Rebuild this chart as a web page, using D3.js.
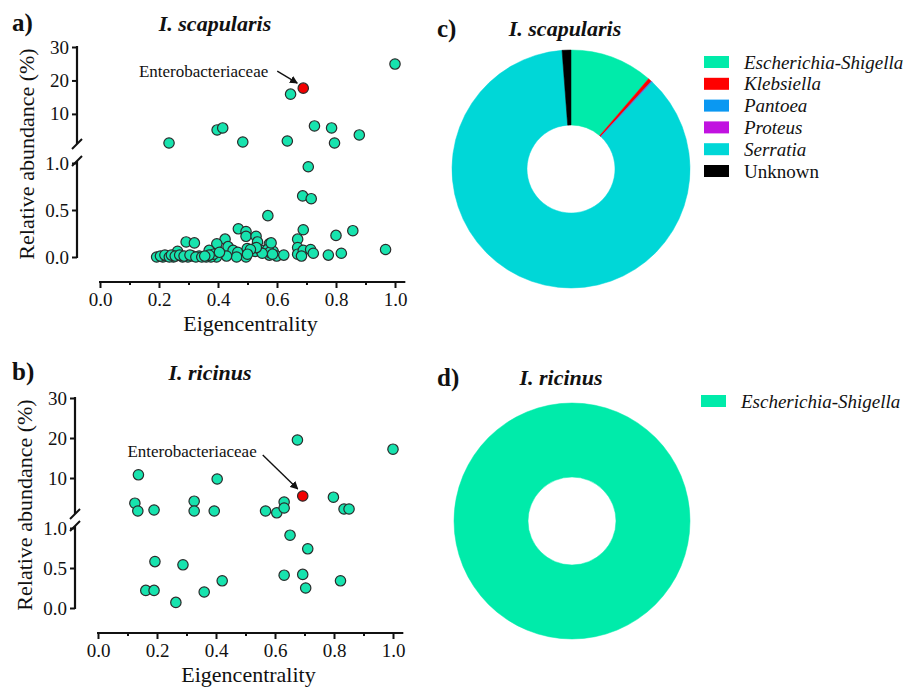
<!DOCTYPE html>
<html>
<head>
<meta charset="utf-8">
<script src="https://cdn.jsdelivr.net/npm/d3@7"></script>
<style>
  body { margin: 0; background: #fff; }
  text { font-family: "Liberation Serif", "Times New Roman", serif; fill: #111; }
</style>
</head>
<body>
<script>

/******** Data *********/

// I. scapularis: eigencentrality vs relative abundance (%)
var scapEigen = [0.234, 0.397, 0.416, 0.484, 0.635, 0.646, 0.727, 0.785, 0.795, 0.879, 1.0,
  0.706, 0.687, 0.716, 0.569,
  0.469, 0.495, 0.495, 0.529, 0.534, 0.574, 0.670, 0.689, 0.800, 0.857, 0.968,
  0.292, 0.320, 0.424, 0.396, 0.434, 0.451, 0.467, 0.499, 0.523, 0.526, 0.546, 0.568, 0.587,
  0.574, 0.599, 0.623, 0.670, 0.670, 0.689, 0.683, 0.714, 0.723, 0.774, 0.818,
  0.495, 0.463, 0.429, 0.395, 0.376, 0.376, 0.360, 0.336, 0.314, 0.298, 0.263, 0.280, 0.249,
  0.227, 0.213, 0.192, 0.205, 0.220, 0.235, 0.242, 0.255, 0.270, 0.285, 0.305, 0.325, 0.345,
  0.370, 0.385, 0.405, 0.575, 0.585, 0.550, 0.530, 0.510, 0.580, 0.370, 0.355, 0.500]
var scapAbund = [1.3, 5.2, 5.8, 1.6, 1.9, 15.9, 6.4, 5.8, 1.3, 3.7, 24.9,
  0.96, 0.65, 0.62, 0.44,
  0.30, 0.27, 0.22, 0.22, 0.16, 0.14, 0.19, 0.29, 0.23, 0.28, 0.08,
  0.16, 0.15, 0.19, 0.14, 0.11, 0.07, 0.05, 0.09, 0.09, 0.06, 0.07, 0.08, 0.06,
  0.02, 0.01, 0.02, 0.10, 0.03, 0.07, 0.01, 0.08, 0.04, 0.02, 0.04,
  0.00, 0.00, 0.01, 0.00, 0.04, 0.00, 0.00, 0.01, 0.01, 0.00, 0.06, 0.00, 0.00,
  0.01, 0.00, 0.00, 0.01, 0.02, 0.00, 0.02, 0.01, 0.02, 0.01, 0.02, 0.00, 0.00,
  0.07, 0.03, 0.05, 0.05, 0.03, 0.04, 0.10, 0.08, 0.15, 0.02, 0.01, 0.03]
var scapEntero = [0.689, 17.7]

// I. ricinus
var ricEigen = [0.137, 0.404, 0.676, 1.0, 0.798, 0.125, 0.326, 0.631, 0.135, 0.190, 0.326,
  0.394, 0.568, 0.606, 0.631, 0.834, 0.851,
  0.651, 0.711, 0.193, 0.288, 0.421, 0.631, 0.694, 0.822, 0.704, 0.162, 0.190, 0.360, 0.264]
var ricAbund = [10.8, 9.75, 19.5, 17.2, 5.2, 3.7, 4.2, 4.0, 1.75, 2.0, 1.75,
  1.75, 1.75, 1.3, 2.5, 2.25, 2.25,
  0.91, 0.74, 0.58, 0.54, 0.34, 0.41, 0.42, 0.34, 0.25, 0.22, 0.22, 0.20, 0.07]
var ricEntero = [0.694, 5.5]

// Genus composition of Enterobacteriaceae (%)
var scapGenera = ["Escherichia-Shigella", "Klebsiella", "Pantoea", "Proteus", "Serratia", "Unknown"]
var scapShares = [11.3, 0.5, 0.1, 0.05, 86.85, 1.2]
var ricGenera = ["Escherichia-Shigella"]
var ricShares = [100]

var xTicks = [0, 0.2, 0.4, 0.6, 0.8, 1.0]
var xMinor = [0.1, 0.3, 0.5, 0.7, 0.9]
var yUpperTicks = [10, 20, 30]
var yLowerTicks = [0, 0.5, 1.0]

var genusColor = {
  "Escherichia-Shigella": "#00ebaa",
  "Klebsiella": "#ff0000",
  "Pantoea": "#0a98f2",
  "Proteus": "#c112e0",
  "Serratia": "#00d7d7",
  "Unknown": "#000000"
}
var italicGenus = function(g){ return g !== "Unknown" }

var svg = d3.select("body")
  .append("svg")
    .attr("width", 916)
    .attr("height", 687)

/******** Scatter panels *********/

function scatterPanel(p){
  var g = svg.append("g")

  var x = d3.scaleLinear().domain([0, 1]).range(p.xRange)
  var yUp = d3.scaleLinear().domain([1, 30]).range(p.upRange)
  var yLow = d3.scaleLinear().domain([0, 1]).range(p.lowRange)
  var y = function(v){ return v > 1 ? yUp(v) : yLow(v) }

  // x axis
  var xa = g.append("g")
    .attr("transform", "translate(0," + p.xAxisY + ")")
    .call(d3.axisBottom(x).tickValues(xTicks).tickSize(6).tickFormat(d3.format(".1f")))
  xa.select(".domain").remove()
  var xm = g.append("g")
    .attr("transform", "translate(0," + p.xAxisY + ")")
    .call(d3.axisBottom(x).tickValues(xMinor).tickSize(3).tickFormat(""))
  xm.select(".domain").remove()
  xm.selectAll(".tick text").remove()
  g.append("line")
    .attr("x1", x(0) - 1).attr("x2", x(1.035))
    .attr("y1", p.xAxisY).attr("y2", p.xAxisY)
    .attr("stroke", "#111").attr("stroke-width", 2.2)

  // y axis, two segments
  var ua = g.append("g")
    .attr("transform", "translate(" + p.yAxisX + ",0)")
    .call(d3.axisLeft(yUp).tickValues(yUpperTicks).tickSize(5).tickFormat(d3.format("d")))
  ua.select(".domain").remove()
  var la = g.append("g")
    .attr("transform", "translate(" + p.yAxisX + ",0)")
    .call(d3.axisLeft(yLow).tickValues(yLowerTicks).tickSize(5).tickFormat(d3.format(".1f")))
  la.select(".domain").remove()

  g.append("line")
    .attr("x1", p.yAxisX).attr("x2", p.yAxisX)
    .attr("y1", yUp(30) - 1).attr("y2", yUp(1))
    .attr("stroke", "#111").attr("stroke-width", 2.2)
  g.append("line")
    .attr("x1", p.yAxisX).attr("x2", p.yAxisX)
    .attr("y1", yLow(1) - 2).attr("y2", yLow(0) + 1)
    .attr("stroke", "#111").attr("stroke-width", 2.2)

  // break marks
  ;[yUp(1), yLow(1) - 2].forEach(function(by){
    g.append("line")
      .attr("x1", p.yAxisX - 5).attr("y1", by + 5)
      .attr("x2", p.yAxisX + 5).attr("y2", by - 5)
      .attr("stroke", "#111").attr("stroke-width", 2)
  })

  g.selectAll(".tick line").attr("stroke", "#111").attr("stroke-width", 2)
  g.selectAll(".tick text")
    .attr("font-size", "19px")
    .attr("font-family", "Liberation Serif, serif")
    .attr("fill", "#222")
  xa.selectAll(".tick text").attr("dy", "0.8em")
  ua.selectAll(".tick text").attr("x", -8)
  la.selectAll(".tick text").attr("x", -8)

  // axis titles
  g.append("text")
    .attr("x", (x(0) + x(1)) / 2 + 3)
    .attr("y", p.xAxisY + 49)
    .attr("text-anchor", "middle")
    .attr("font-size", "22px")
    .text("Eigencentrality")

  g.append("text")
    .attr("transform", "translate(" + (p.yAxisX - 43) + "," + ((yUp(30) + yLow(0)) / 2 + 2) + ") rotate(-90)")
    .attr("text-anchor", "middle")
    .attr("font-size", "22px")
    .text("Relative abundance (%)")

  // panel label + title
  g.append("text")
    .attr("x", 12).attr("y", p.titleY)
    .attr("font-size", "25px").attr("font-weight", "bold")
    .text(p.label)
  g.append("text")
    .attr("x", p.titleX).attr("y", p.titleY)
    .attr("text-anchor", "middle")
    .attr("font-size", "22px").attr("font-weight", "bold").attr("font-style", "italic")
    .text(p.title)

  // points
  g.selectAll("circle.otu")
    .data(p.eigen.map(function(e, i){ return { e: e, a: p.abund[i] } }))
    .enter()
    .append("circle")
      .attr("class", "otu")
      .attr("cx", function(d){ return x(d.e) })
      .attr("cy", function(d){ return y(d.a) })
      .attr("r", 5.2)
      .attr("fill", "#17e3ae")
      .attr("stroke", "#2b2b2b")
      .attr("stroke-width", 1.2)

  var ex = x(p.entero[0]), ey = y(p.entero[1])
  g.append("circle")
    .attr("cx", ex).attr("cy", ey)
    .attr("r", 5.2)
    .attr("fill", "#f20000")
    .attr("stroke", "#2b2b2b")
    .attr("stroke-width", 1.2)

  // annotation
  g.append("text")
    .attr("x", ex + p.note[0]).attr("y", ey + p.note[1])
    .attr("text-anchor", "end")
    .attr("font-size", "17px")
    .text("Enterobacteriaceae")
  g.append("line")
    .attr("x1", ex + p.arrow[0]).attr("y1", ey + p.arrow[1])
    .attr("x2", ex + p.arrow[2]).attr("y2", ey + p.arrow[3])
    .attr("stroke", "#111").attr("stroke-width", 1.4)
    .attr("marker-end", "url(#arrowhead)")
}

svg.append("defs").append("marker")
  .attr("id", "arrowhead")
  .attr("viewBox", "0 0 10 10")
  .attr("refX", 9).attr("refY", 5)
  .attr("markerWidth", 8).attr("markerHeight", 8)
  .attr("markerUnits", "userSpaceOnUse")
  .attr("orient", "auto")
  .append("path")
    .attr("d", "M0,0 L10,5 L0,10 z")
    .attr("fill", "#111")

scatterPanel({
  label: "a)", title: "I. scapularis", titleX: 215, titleY: 31,
  xRange: [100, 395], xAxisY: 282, yAxisX: 77,
  upRange: [144, 47], lowRange: [257, 163],
  eigen: scapEigen, abund: scapAbund, entero: scapEntero,
  note: [-35, -11], arrow: [-26, -17, -6, -5]
})

scatterPanel({
  label: "b)", title: "I. ricinus", titleX: 210, titleY: 380,
  xRange: [98, 393], xAxisY: 633, yAxisX: 75,
  upRange: [514, 398], lowRange: [608, 528],
  eigen: ricEigen, abund: ricAbund, entero: ricEntero,
  note: [-46, -39], arrow: [-40, -41, -5, -7]
})

/******** Donut panels *********/

function donutPanel(p){
  var g = svg.append("g")

  g.append("text")
    .attr("x", 437).attr("y", p.titleY + 1)
    .attr("font-size", "25px").attr("font-weight", "bold")
    .text(p.label)
  g.append("text")
    .attr("x", p.titleX).attr("y", p.titleY)
    .attr("text-anchor", "middle")
    .attr("font-size", "22px").attr("font-weight", "bold").attr("font-style", "italic")
    .text(p.title)

  var pie = d3.pie().sort(null).value(function(d){ return d.v })
  var arc = d3.arc().innerRadius(p.r0).outerRadius(p.r1)
  var slices = pie(p.genera.map(function(n, i){ return { n: n, v: p.shares[i] } }))

  g.append("g")
    .attr("transform", "translate(" + p.cx + "," + p.cy + ")")
    .selectAll("path")
    .data(slices)
    .enter()
    .append("path")
      .attr("d", arc)
      .attr("fill", function(d){ return genusColor[d.data.n] })
      .attr("stroke", function(d){ return genusColor[d.data.n] })
      .attr("stroke-width", 0.5)

  var leg = g.selectAll("g.leg")
    .data(p.genera)
    .enter()
    .append("g")
      .attr("class", "leg")
      .attr("transform", function(d, i){ return "translate(" + p.legX + "," + (p.legY + i * 21.8) + ")" })
  leg.append("rect")
    .attr("x", 0).attr("y", -6)
    .attr("width", 25).attr("height", 12)
    .attr("fill", function(d){ return genusColor[d] })
  leg.append("text")
    .attr("x", 40).attr("y", 0).attr("dy", "0.35em")
    .attr("font-size", "19px")
    .attr("font-style", function(d){ return italicGenus(d) ? "italic" : "normal" })
    .text(function(d){ return d })
}

donutPanel({
  label: "c)", title: "I. scapularis", titleX: 565, titleY: 36,
  cx: 571, cy: 169, r0: 44, r1: 119,
  genera: scapGenera, shares: scapShares,
  legX: 704, legY: 62
})

donutPanel({
  label: "d)", title: "I. ricinus", titleX: 561, titleY: 385,
  cx: 572, cy: 521, r0: 44, r1: 118,
  genera: ricGenera, shares: ricShares,
  legX: 701, legY: 401
})

</script>
</body>
</html>
